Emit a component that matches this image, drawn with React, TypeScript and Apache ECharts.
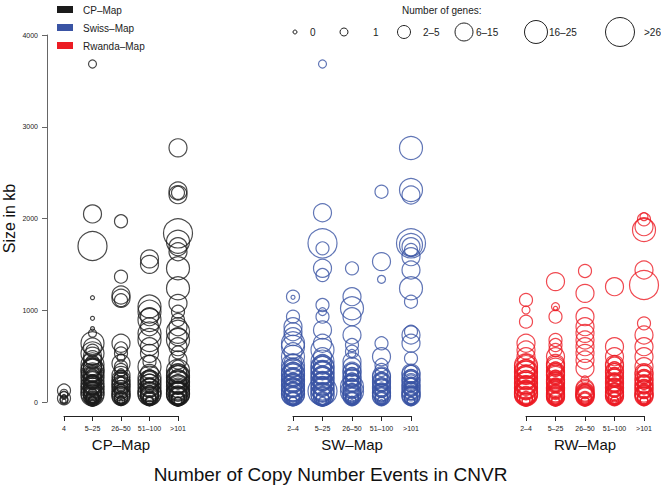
import React, { useEffect, useRef } from "react";
import * as echarts from "echarts";

const cpCategories = ["4", "5–25", "26–50", "51–100", ">101"];
const swCategories = ["2–4", "5–25", "26–50", "51–100", ">101"];
const rwCategories = ["2–4", "5–25", "26–50", "51–100", ">101"];
const geneClasses = ["0", "1", "2–5", "6–15", "16–25", ">26"];
const geneDiameters = [4, 8, 13, 18, 23, 29];
const mapNames = ["CP–Map", "Swiss–Map", "Rwanda–Map"];
const panelNames = ["CP–Map", "SW–Map", "RW–Map"];
const mapColors = ["#1b1b1b", "#3a54a4", "#ec1c24"];

// [category index, size in kb, gene class index]
const cpPoints: number[][] = [
  [0, 125, 2], [0, 95, 1], [0, 60, 0], [0, 40, 2], [0, 30, 1], [0, 10, 0], [0, 75, 1], [0, 20, 1],
  [1, 3684, 1], [1, 2050, 3], [1, 1700, 5], [1, 1137, 0], [1, 912, 0], [1, 800, 0], [1, 750, 1],
  [1, 640, 4], [1, 600, 3], [1, 560, 2], [1, 530, 4], [1, 500, 3], [1, 460, 3], [1, 440, 2], [1, 410, 4],
  [1, 395, 3], [1, 380, 3], [1, 370, 3], [1, 355, 4], [1, 340, 4], [1, 325, 2], [1, 310, 3], [1, 300, 4],
  [1, 290, 2], [1, 275, 3], [1, 260, 4], [1, 250, 3], [1, 240, 3], [1, 228, 2], [1, 215, 2], [1, 205, 4],
  [1, 190, 3], [1, 180, 3], [1, 170, 4], [1, 160, 3], [1, 150, 2], [1, 140, 4], [1, 130, 3], [1, 120, 3],
  [1, 110, 1], [1, 102, 4], [1, 95, 3], [1, 88, 3], [1, 82, 4], [1, 72, 3], [1, 65, 2], [1, 58, 3],
  [1, 50, 2], [1, 42, 2], [1, 35, 1], [1, 30, 2], [1, 25, 2], [1, 20, 1], [1, 15, 1], [1, 10, 1],
  [1, 5, 0],
  [2, 1970, 2], [2, 1366, 2], [2, 1166, 3], [2, 1130, 3], [2, 1110, 2], [2, 640, 3], [2, 585, 2],
  [2, 530, 2], [2, 480, 1], [2, 420, 3], [2, 385, 2], [2, 350, 2], [2, 320, 1], [2, 290, 3], [2, 275, 2],
  [2, 260, 2], [2, 245, 3], [2, 230, 1], [2, 215, 3], [2, 200, 2], [2, 188, 3], [2, 175, 3], [2, 162, 2],
  [2, 150, 1], [2, 138, 3], [2, 125, 2], [2, 112, 3], [2, 100, 2], [2, 90, 3], [2, 80, 0], [2, 70, 3],
  [2, 60, 3], [2, 50, 2], [2, 40, 2], [2, 32, 2], [2, 25, 1], [2, 18, 1], [2, 10, 1], [2, 4, 0],
  [3, 1560, 3], [3, 1500, 3], [3, 1040, 4], [3, 985, 4], [3, 930, 3], [3, 894, 4], [3, 820, 3],
  [3, 748, 4], [3, 676, 4], [3, 603, 3], [3, 530, 3], [3, 440, 2], [3, 385, 4], [3, 312, 3], [3, 280, 2],
  [3, 265, 4], [3, 250, 3], [3, 235, 3], [3, 220, 4], [3, 205, 3], [3, 190, 2], [3, 178, 4], [3, 165, 3],
  [3, 152, 3], [3, 140, 1], [3, 128, 4], [3, 115, 3], [3, 102, 3], [3, 95, 4], [3, 88, 4], [3, 80, 3],
  [3, 70, 3], [3, 60, 3], [3, 50, 2], [3, 40, 2], [3, 30, 2], [3, 22, 1], [3, 15, 1], [3, 5, 1],
  [4, 2770, 3], [4, 2300, 3], [4, 2280, 2], [4, 2260, 3], [4, 1838, 5], [4, 1747, 4], [4, 1693, 3],
  [4, 1638, 3], [4, 1457, 4], [4, 1239, 4], [4, 1075, 3], [4, 985, 2], [4, 894, 2], [4, 820, 3],
  [4, 766, 4], [4, 712, 3], [4, 676, 4], [4, 603, 3], [4, 540, 2], [4, 458, 3], [4, 385, 2], [4, 340, 4],
  [4, 320, 3], [4, 300, 3], [4, 285, 4], [4, 270, 4], [4, 255, 3], [4, 240, 3], [4, 225, 4], [4, 210, 4],
  [4, 198, 3], [4, 185, 3], [4, 172, 4], [4, 160, 2], [4, 148, 3], [4, 135, 4], [4, 122, 3], [4, 110, 3],
  [4, 100, 4], [4, 92, 4], [4, 85, 4], [4, 78, 3], [4, 70, 3], [4, 62, 3], [4, 55, 3], [4, 48, 2],
  [4, 40, 2], [4, 32, 2], [4, 25, 2], [4, 15, 1], [4, 5, 1],
];

const swPoints: number[][] = [
  [0, 1148, 2], [0, 1141, 0], [0, 930, 2], [0, 821, 3], [0, 766, 3], [0, 712, 3], [0, 640, 4],
  [0, 603, 4], [0, 548, 3], [0, 494, 4], [0, 421, 3], [0, 400, 4], [0, 380, 3], [0, 365, 3], [0, 350, 4],
  [0, 335, 3], [0, 320, 3], [0, 305, 4], [0, 290, 4], [0, 275, 3], [0, 260, 3], [0, 245, 4], [0, 230, 4],
  [0, 215, 3], [0, 200, 3], [0, 188, 4], [0, 175, 4], [0, 162, 3], [0, 150, 3], [0, 138, 4], [0, 125, 4],
  [0, 112, 3], [0, 100, 3], [0, 92, 4], [0, 85, 4], [0, 75, 3], [0, 65, 3], [0, 58, 3], [0, 50, 2],
  [0, 40, 2], [0, 30, 2], [0, 20, 1], [0, 10, 1],
  [1, 3684, 1], [1, 2063, 3], [1, 1729, 5], [1, 1675, 2], [1, 1457, 3], [1, 1384, 2], [1, 1057, 2],
  [1, 985, 1], [1, 930, 2], [1, 785, 3], [1, 640, 3], [1, 567, 4], [1, 494, 3], [1, 440, 4], [1, 420, 3],
  [1, 400, 3], [1, 385, 4], [1, 370, 4], [1, 355, 3], [1, 340, 3], [1, 325, 4], [1, 310, 4], [1, 295, 3],
  [1, 280, 3], [1, 265, 4], [1, 250, 4], [1, 235, 3], [1, 220, 3], [1, 205, 4], [1, 190, 4], [1, 175, 3],
  [1, 160, 3], [1, 148, 4], [1, 135, 4], [1, 120, 5], [1, 105, 3], [1, 95, 3], [1, 88, 4], [1, 82, 4],
  [1, 72, 3], [1, 62, 3], [1, 55, 3], [1, 45, 2], [1, 35, 2], [1, 25, 2], [1, 15, 1], [1, 5, 1],
  [2, 1457, 2], [2, 1148, 3], [2, 1021, 4], [2, 930, 3], [2, 730, 3], [2, 621, 2], [2, 548, 2],
  [2, 530, 1], [2, 440, 3], [2, 385, 3], [2, 350, 2], [2, 335, 3], [2, 320, 3], [2, 305, 2], [2, 290, 2],
  [2, 275, 3], [2, 260, 3], [2, 245, 2], [2, 230, 2], [2, 215, 3], [2, 200, 3], [2, 185, 2], [2, 167, 4],
  [2, 152, 3], [2, 140, 3], [2, 128, 2], [2, 115, 4], [2, 102, 3], [2, 90, 3], [2, 80, 2], [2, 70, 3],
  [2, 60, 3], [2, 50, 2], [2, 40, 2], [2, 30, 2], [2, 20, 1], [2, 10, 1], [2, 4, 0],
  [3, 2292, 2], [3, 1530, 3], [3, 1337, 1], [3, 640, 2], [3, 494, 3], [3, 403, 2], [3, 349, 2],
  [3, 300, 2], [3, 285, 3], [3, 270, 3], [3, 255, 2], [3, 240, 2], [3, 225, 3], [3, 210, 3], [3, 195, 2],
  [3, 180, 2], [3, 165, 3], [3, 150, 3], [3, 135, 2], [3, 120, 2], [3, 108, 3], [3, 95, 3], [3, 82, 2],
  [3, 70, 3], [3, 60, 3], [3, 50, 2], [3, 40, 2], [3, 30, 2], [3, 20, 1], [3, 10, 1], [3, 5, 0],
  [4, 2768, 4], [4, 2310, 4], [4, 2256, 3], [4, 1729, 5], [4, 1711, 4], [4, 1693, 3], [4, 1657, 2],
  [4, 1584, 3], [4, 1439, 3], [4, 1239, 4], [4, 1093, 2], [4, 766, 2], [4, 730, 3], [4, 640, 3],
  [4, 476, 2], [4, 330, 2], [4, 315, 3], [4, 300, 3], [4, 285, 2], [4, 270, 2], [4, 255, 3], [4, 240, 3],
  [4, 225, 2], [4, 210, 3], [4, 198, 2], [4, 185, 2], [4, 172, 3], [4, 160, 3], [4, 148, 2], [4, 135, 2],
  [4, 122, 3], [4, 110, 3], [4, 98, 2], [4, 85, 3], [4, 72, 3], [4, 60, 3], [4, 50, 2], [4, 40, 2],
  [4, 30, 2], [4, 20, 1], [4, 12, 1], [4, 5, 1],
];

const rwPoints: number[][] = [
  [0, 1112, 2], [0, 1003, 1], [0, 876, 2], [0, 640, 3], [0, 567, 3], [0, 494, 3], [0, 420, 3],
  [0, 400, 4], [0, 380, 4], [0, 365, 3], [0, 350, 3], [0, 335, 4], [0, 320, 4], [0, 305, 3], [0, 290, 3],
  [0, 275, 4], [0, 260, 4], [0, 245, 3], [0, 230, 3], [0, 215, 4], [0, 200, 4], [0, 188, 3], [0, 175, 3],
  [0, 162, 4], [0, 150, 4], [0, 138, 3], [0, 125, 3], [0, 112, 4], [0, 100, 4], [0, 90, 4], [0, 82, 4],
  [0, 72, 3], [0, 62, 3], [0, 55, 3], [0, 45, 2], [0, 35, 2], [0, 25, 2], [0, 15, 1], [0, 5, 1],
  [1, 1312, 3], [1, 1039, 1], [1, 1021, 0], [1, 930, 2], [1, 676, 2], [1, 621, 2], [1, 567, 2],
  [1, 494, 3], [1, 420, 3], [1, 400, 3], [1, 380, 3], [1, 365, 2], [1, 350, 2], [1, 335, 3], [1, 320, 3],
  [1, 305, 3], [1, 290, 3], [1, 275, 2], [1, 260, 2], [1, 245, 3], [1, 230, 3], [1, 215, 3], [1, 200, 3],
  [1, 188, 2], [1, 175, 2], [1, 162, 3], [1, 150, 3], [1, 138, 3], [1, 125, 3], [1, 112, 2], [1, 100, 3],
  [1, 90, 3], [1, 80, 3], [1, 70, 3], [1, 60, 3], [1, 55, 3], [1, 45, 2], [1, 35, 2], [1, 25, 2],
  [1, 15, 1], [1, 5, 1],
  [2, 1428, 2], [2, 1184, 3], [2, 930, 3], [2, 821, 3], [2, 748, 3], [2, 676, 3], [2, 603, 3],
  [2, 530, 3], [2, 458, 3], [2, 367, 3], [2, 240, 1], [2, 150, 3], [2, 135, 3], [2, 120, 2], [2, 110, 3],
  [2, 100, 3], [2, 90, 3], [2, 80, 3], [2, 70, 3], [2, 62, 3], [2, 55, 3], [2, 45, 2], [2, 35, 2],
  [2, 25, 2], [2, 15, 1], [2, 5, 1],
  [3, 1257, 3], [3, 603, 3], [3, 494, 3], [3, 430, 2], [3, 410, 3], [3, 390, 3], [3, 370, 2], [3, 350, 2],
  [3, 335, 3], [3, 320, 3], [3, 305, 2], [3, 290, 2], [3, 275, 3], [3, 260, 3], [3, 245, 2], [3, 230, 2],
  [3, 215, 3], [3, 200, 3], [3, 188, 2], [3, 175, 2], [3, 162, 3], [3, 150, 3], [3, 138, 2], [3, 125, 2],
  [3, 112, 3], [3, 100, 3], [3, 90, 2], [3, 80, 3], [3, 70, 3], [3, 60, 3], [3, 50, 2], [3, 40, 2],
  [3, 30, 2], [3, 20, 1], [3, 12, 1], [3, 5, 0],
  [4, 2020, 1], [4, 1991, 2], [4, 1911, 3], [4, 1875, 4], [4, 1439, 3], [4, 1275, 5], [4, 857, 2],
  [4, 730, 3], [4, 603, 3], [4, 494, 3], [4, 385, 3], [4, 340, 2], [4, 320, 3], [4, 300, 3], [4, 285, 2],
  [4, 270, 2], [4, 255, 3], [4, 240, 3], [4, 225, 2], [4, 210, 2], [4, 198, 3], [4, 185, 3], [4, 172, 2],
  [4, 160, 2], [4, 148, 3], [4, 135, 3], [4, 122, 2], [4, 110, 2], [4, 98, 3], [4, 85, 3], [4, 72, 3],
  [4, 60, 3], [4, 50, 2], [4, 40, 2], [4, 30, 2], [4, 20, 1], [4, 12, 1], [4, 5, 1],
];

const FONT = "'Liberation Sans', Arial, Helvetica, sans-serif";

export default function App() {
  const ref = useRef<HTMLDivElement>(null);

  useEffect(() => {
    if (!ref.current) return;
    const chart = echarts.init(ref.current, null, { renderer: "svg" });

    const gridLefts = [59, 293, 526];
    const gridWidths = [119, 118, 118];
    const cats = [cpCategories, swCategories, rwCategories];
    const pts = [cpPoints, swPoints, rwPoints];

    const grids = gridLefts.map((l, i) => ({ left: l, top: 35, width: gridWidths[i], height: 367 }));

    const xAxes = cats.map((c, i) => ({
      type: "category",
      gridIndex: i,
      data: c,
      boundaryGap: false,
      offset: 14,
      axisLine: { show: true, onZero: false, lineStyle: { color: "#222", width: 1 } },
      axisTick: { show: true, length: 5, alignWithLabel: true, lineStyle: { color: "#222" } },
      axisLabel: { fontSize: 7, color: "#222", margin: 9, fontFamily: FONT, interval: 0 },
      splitLine: { show: false },
      name: panelNames[i],
      nameLocation: "middle",
      nameGap: 21,
      nameTextStyle: { fontSize: 15, color: "#111", fontFamily: FONT },
    }));

    const yAxes = [0, 1, 2].map((i) => ({
      type: "value",
      gridIndex: i,
      min: 0,
      max: 4000,
      interval: 1000,
      show: i === 0,
      offset: 17,
      axisLine: { show: true, onZero: false, lineStyle: { color: "#666", width: 1 } },
      axisTick: { show: true, length: 5, lineStyle: { color: "#666" } },
      axisLabel: {
        fontSize: 7,
        color: "#222",
        margin: 9,
        fontFamily: FONT,
        formatter: (v: number) => String(v),
      },
      splitLine: { show: false },
      name: i === 0 ? "Size in kb" : "",
      nameLocation: "middle",
      nameGap: 30,
      nameTextStyle: { fontSize: 16, color: "#111", fontFamily: FONT },
    }));

    const series = pts.map((p, i) => ({
      type: "scatter",
      name: mapNames[i],
      xAxisIndex: i,
      yAxisIndex: i,
      clip: false,
      data: p,
      symbol: "circle",
      symbolSize: (v: number[]) => geneDiameters[v[2]],
      itemStyle: { color: "rgba(0,0,0,0)", borderColor: mapColors[i], borderWidth: 1.2 },
      emphasis: { disabled: true },
    }));

    const legendLeft: any[] = [];
    mapNames.forEach((n, i) => {
      legendLeft.push({
        type: "rect",
        shape: { x: 57, y: 6 + i * 18, width: 16, height: 7 },
        style: { fill: mapColors[i] },
      });
      legendLeft.push({
        type: "text",
        x: 83,
        y: 10 + i * 18,
        style: { text: n, fontSize: 10, fill: "#222", fontFamily: FONT, textVerticalAlign: "middle" },
      });
    });

    const circleX = [295, 344, 404, 464, 536, 620];
    const labelX = [310, 373, 423, 476, 549, 644];
    const legendRight: any[] = [
      {
        type: "text",
        x: 402,
        y: 10,
        style: {
          text: "Number of genes:",
          fontSize: 10,
          fill: "#222",
          fontFamily: FONT,
          textAlign: "left",
          textVerticalAlign: "middle",
        },
      },
    ];
    geneClasses.forEach((g, i) => {
      legendRight.push({
        type: "circle",
        shape: { cx: circleX[i], cy: 32, r: geneDiameters[i] / 2 },
        style: { fill: "none", stroke: "#222", lineWidth: 1 },
      });
      legendRight.push({
        type: "text",
        x: labelX[i],
        y: 32,
        style: { text: g, fontSize: 10, fill: "#222", fontFamily: FONT, textVerticalAlign: "middle" },
      });
    });

    chart.setOption({
      animation: false,
      backgroundColor: "#fff",
      title: {
        text: "Number of Copy Number Events in CNVR",
        left: "center",
        top: 460,
        textStyle: { fontSize: 19, fontWeight: "normal", color: "#111", fontFamily: FONT },
      },
      grid: grids,
      xAxis: xAxes,
      yAxis: yAxes,
      series,
      graphic: [...legendLeft, ...legendRight],
    });

    return () => chart.dispose();
  }, []);

  return (
    <div
      ref={ref}
      style={{ position: "fixed", left: 0, top: 0, width: 661, height: 485 }}
    />
  );
}
